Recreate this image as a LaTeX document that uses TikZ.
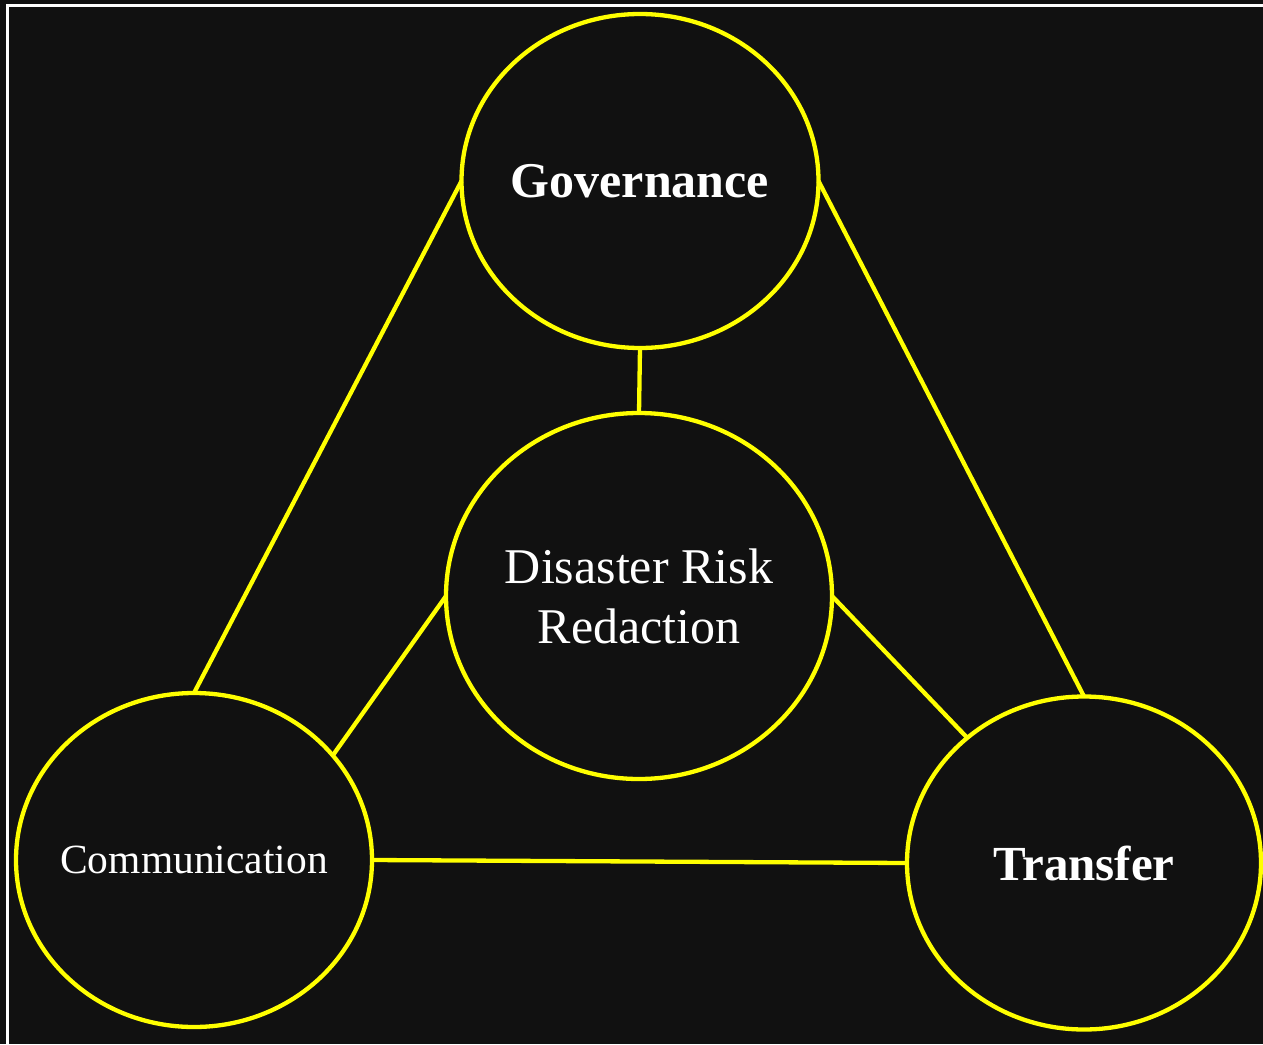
\documentclass[tikz,border=0pt]{standalone}
\usepackage{fontspec}
\setmainfont{Liberation Serif}
\usetikzlibrary{shapes.geometric}
\definecolor{bgdark}{HTML}{111111}
\definecolor{ringyellow}{HTML}{FFFF00}
\tikzset{
  ring/.style={ellipse, draw=ringyellow, line width=4.3pt, inner sep=0pt, outer sep=0pt},
  ringtext/.style={text=white, align=center, inner sep=0pt},
  link/.style={draw=ringyellow, line width=4.3pt}
}

\begin{document}
\begin{tikzpicture}[x=1pt, y=-1pt]
            \useasboundingbox (0, 0) rectangle (1263, 1044);
            \fill[bgdark] (0, 0) rectangle (1263, 1044);
            \draw[white, line width=3.5pt] (7.5, 1050) -- (7.5, 5.5) -- (1270, 5.5);

            \node[ring, minimum width=357, minimum height=334,
                label={[ringtext, font=\fontsize{50}{60}\selectfont\bfseries]center:Governance}] (gov) at (640, 181) {};
            \node[ring, minimum width=386, minimum height=366,
                label={[ringtext, font=\fontsize{50}{60}\selectfont]center:Disaster Risk\\ Redaction}] (drr) at (639, 596) {};
            \node[ring, minimum width=356, minimum height=334,
                label={[ringtext, font=\fontsize{41.5}{50}\selectfont]center:Communication}] (comm) at (194, 860) {};
            \node[ring, minimum width=354, minimum height=333,
                label={[ringtext, font=\fontsize{49}{58}\selectfont\bfseries]center:Transfer}] (trans) at (1084, 863) {};

            \draw[link] (gov.west) -- (comm.north)
                (gov.east) -- (trans.north)
                (gov.south) -- (drr.north)
                (drr.west) -- (comm.37)
                (drr.east) -- (trans.133)
                (comm.east) -- (trans.west);
        \end{tikzpicture}
\end{document}
